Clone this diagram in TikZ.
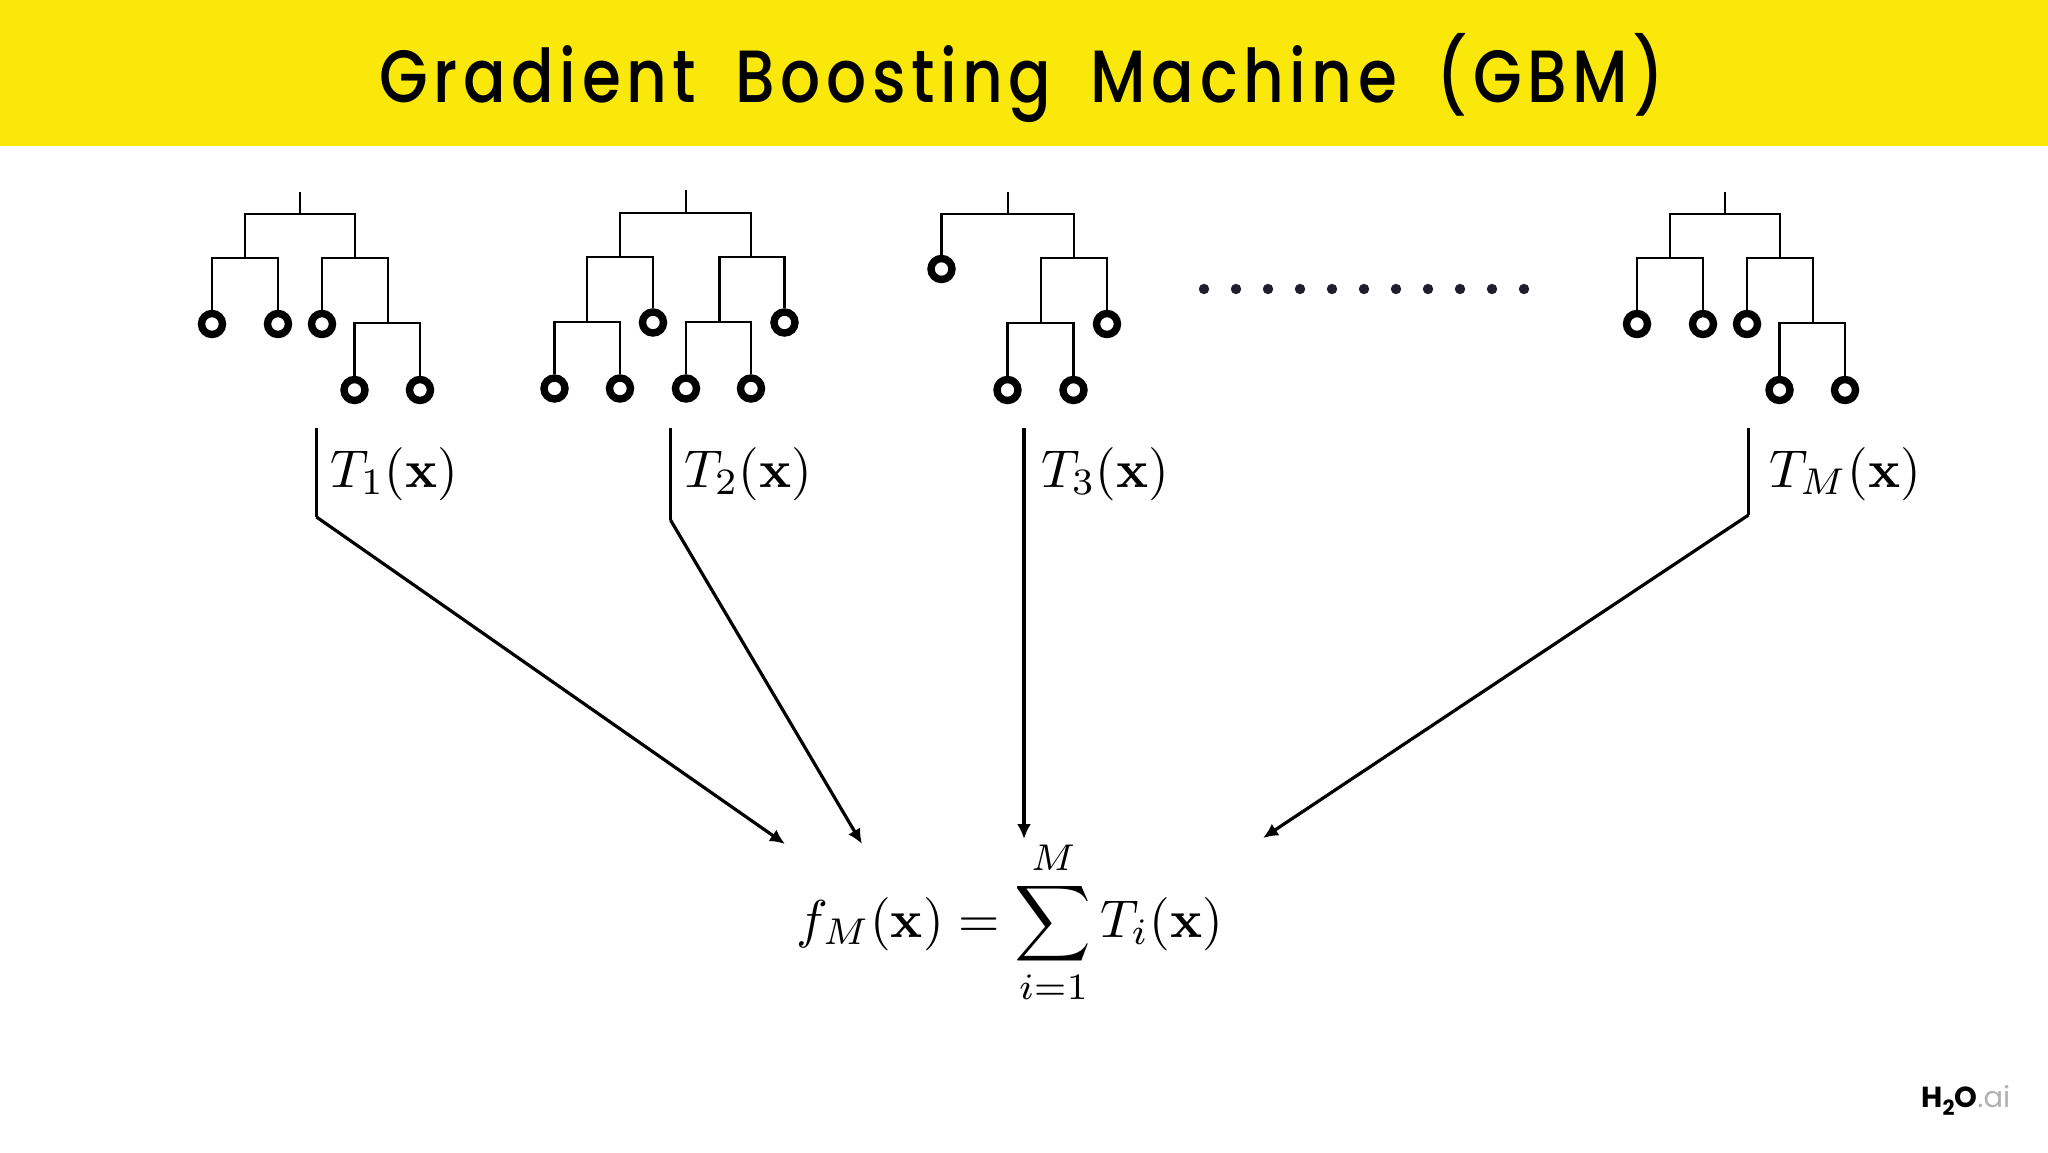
\documentclass[tikz,border=0pt]{standalone}
\usepackage[no-math]{fontspec}
\usepackage{amsmath}
\usetikzlibrary{arrows.meta}
\newfontfamily\titlefont[LetterSpace=7.5,FakeStretch=0.85,WordSpace=1.8]{Poppins Medium}
\newfontfamily\logofont{Poppins}
\definecolor{band}{HTML}{FAE80A}
\definecolor{dotc}{HTML}{1E2030}
\tikzset{
  edge/.style={line width=1.4pt,black},
  conn/.style={line width=1.6pt,black,line cap=butt},
  tip/.style={conn,-{Latex[length=7.5pt,width=7pt]}},
  leaf/.style={circle,draw=black,fill=white,line width=3.7pt,minimum size=10.5pt,inner sep=0pt},
  mathlabel/.style={scale=2.66,transform shape,inner sep=0pt,outer sep=0pt,text=black},
  dotn/.style={circle,fill=dotc,minimum size=5.2pt,inner sep=0pt}
}
\begin{document}
\begin{tikzpicture}[x=0.5pt,y=-0.5pt]
\useasboundingbox (0,0) rectangle (2048,1152);
\fill[white] (0,0) rectangle (2048,1152);
\fill[band] (0,0) rectangle (2048,146);
\node[anchor=base,inner sep=0pt] (title) at (1022,102) {\titlefont\fontsize{37}{40}\selectfont Gradient Boosting Machine (GBM)};

% Tree 1
\coordinate (a0) at (300,192);
\coordinate (a1) at (300,214);
\coordinate (a2) at (245,258);
\coordinate (a3) at (355,258);
\coordinate (a4) at (388,323);
\node[leaf] (a5) at (212,324) {};
\node[leaf] (a6) at (278,324) {};
\node[leaf] (a7) at (322,324) {};
\node[leaf] (a8) at (354.5,390) {};
\node[leaf] (a9) at (420,390) {};
\draw[edge] (a0) -- (a1);
\draw[edge] (a2) |- (a1) -| (a3);
\draw[edge] (a5) |- (a2) -| (a6);
\draw[edge] (a7) |- (a3) -| (a4);
\draw[edge] (a8) |- (a4) -| (a9);

% Tree 2
\coordinate (b0) at (686,190);
\coordinate (b1) at (686,213);
\coordinate (b2) at (620,257);
\coordinate (b3) at (751,257);
\coordinate (b4) at (587,322);
\coordinate (b5) at (719.5,322);
\node[leaf] (b6) at (653,322.5) {};
\node[leaf] (b7) at (784.5,322.5) {};
\node[leaf] (b8) at (554.5,388.5) {};
\node[leaf] (b9) at (620,388.5) {};
\node[leaf] (b10) at (686,388.5) {};
\node[leaf] (b11) at (751,388.5) {};
\draw[edge] (b0) -- (b1);
\draw[edge] (b2) |- (b1) -| (b3);
\draw[edge] (b4) |- (b2) -| (b6);
\draw[edge] (b5) |- (b3) -| (b7);
\draw[edge] (b8) |- (b4) -| (b9);
\draw[edge] (b10) |- (b5) -| (b11);

% Tree 3
\coordinate (c0) at (1008,192);
\coordinate (c1) at (1008,214);
\coordinate (c2) at (1074,258);
\coordinate (c3) at (1041,323);
\node[leaf] (c4) at (941.5,269) {};
\node[leaf] (c5) at (1107,324) {};
\node[leaf] (c6) at (1007.5,390) {};
\node[leaf] (c7) at (1073.5,390) {};
\draw[edge] (c0) -- (c1);
\draw[edge] (c4) |- (c1) -| (c2);
\draw[edge] (c3) |- (c2) -| (c5);
\draw[edge] (c6) |- (c3) -| (c7);

% Tree M
\coordinate (d0) at (1725,192);
\coordinate (d1) at (1725,214);
\coordinate (d2) at (1670,258);
\coordinate (d3) at (1780,258);
\coordinate (d4) at (1813,323);
\node[leaf] (d5) at (1637,324) {};
\node[leaf] (d6) at (1703,324) {};
\node[leaf] (d7) at (1747,324) {};
\node[leaf] (d8) at (1779.5,390) {};
\node[leaf] (d9) at (1845,390) {};
\draw[edge] (d0) -- (d1);
\draw[edge] (d2) |- (d1) -| (d3);
\draw[edge] (d5) |- (d2) -| (d6);
\draw[edge] (d7) |- (d3) -| (d4);
\draw[edge] (d8) |- (d4) -| (d9);

% Dots
\foreach \i in {0,...,10} {
  \node[dotn] (dot\i) at ({1204+\i*32},289) {};
}

% Labels
\node[mathlabel,anchor=base west] (lab1) at (330,487) {$T_1(\mathbf{x})$};
\node[mathlabel,anchor=base west] (lab2) at (684,487) {$T_2(\mathbf{x})$};
\node[mathlabel,anchor=base west] (lab3) at (1041,487) {$T_3(\mathbf{x})$};
\node[mathlabel,anchor=base west] (labM) at (1769,487) {$T_M(\mathbf{x})$};
\node[mathlabel,anchor=base] (sum) at (1010,937) {$\displaystyle f_M(\mathbf{x})=\sum_{i=1}^{M}T_i(\mathbf{x})$};

% Connectors
\coordinate (s1) at (316.5,428);
\coordinate (k1) at (316.5,517);
\coordinate (e1) at (785,844);
\coordinate (s2) at (670.5,428);
\coordinate (k2) at (670.5,520);
\coordinate (e2) at (862,844);
\coordinate (s3) at (1024,428);
\coordinate (e3) at (1024,839);
\coordinate (s4) at (1748.5,428);
\coordinate (k4) at (1748.5,515);
\coordinate (e4) at (1263,838);
\draw[conn] (s1) -- (k1);
\draw[tip] (k1) -- (e1);
\draw[conn] (s2) -- (k2);
\draw[tip] (k2) -- (e2);
\draw[tip] (s3) -- (e3);
\draw[conn] (s4) -- (k4);
\draw[tip] (k4) -- (e4);

% Logo
\node[anchor=base west,inner sep=0pt] (logo) at (1921,1107) {\logofont\fontsize{14.5}{15}\selectfont\textbf{H\raisebox{-4pt}{\fontsize{10.5}{10.5}\selectfont 2}O}\textcolor{black!30}{.ai}};
\end{tikzpicture}
\end{document}
